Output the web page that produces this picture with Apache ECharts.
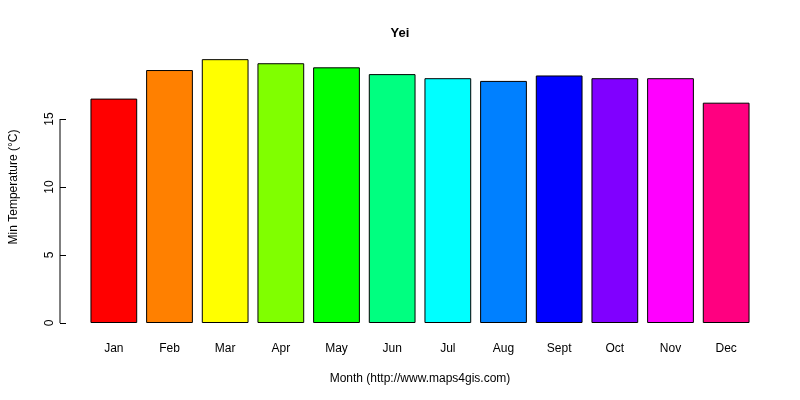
<!DOCTYPE html>
<html><head><meta charset="utf-8">
<script src="https://cdn.jsdelivr.net/npm/echarts@6/dist/echarts.min.js"></script>
<style>body{margin:0}#c{width:800px;height:400px}</style></head>
<body><div id="c"></div>
<script>
var months = ['Jan','Feb','Mar','Apr','May','Jun','Jul','Aug','Sept','Oct','Nov','Dec'];
var minTemp = [16.5,18.6,19.4,19.1,18.8,18.3,18.0,17.8,18.2,18.0,18.0,16.2];
var barColors = ['#FF0000','#FF8000','#FFFF00','#80FF00','#00FF00','#00FF80','#00FFFF','#0080FF','#0000FF','#8000FF','#FF00FF','#FF0080'];
var yTicks = [0,5,10,15];
var chart = echarts.init(document.getElementById('c'));
var font = 'Arial, Liberation Sans, sans-serif';
chart.setOption({
  animation:false,
  title:{text:'Yei',left:'center',top:22,textStyle:{fontSize:13,fontWeight:'bold',color:'#000',fontFamily:font}},
  grid:{left:80,right:46,top:51,bottom:77},
  xAxis:{type:'category',data:months,axisLine:{show:false},axisTick:{show:false},
    axisLabel:{margin:20,fontSize:12,color:'#000',fontFamily:font},
    name:'Month (http://www.maps4gis.com)',nameLocation:'middle',nameGap:50,
    nameTextStyle:{fontSize:12,color:'#000',fontFamily:font}},
  yAxis:{type:'value',min:0,max:20,interval:5,offset:20,splitLine:{show:false},
    axisLine:{show:false},
    axisTick:{show:true,length:6,lineStyle:{color:'#000'},customValues:yTicks},
    axisLabel:{rotate:90,fontSize:12,color:'#000',fontFamily:font,margin:10,customValues:yTicks},
    name:'Min Temperature (°C)',nameLocation:'middle',nameGap:46,
    nameTextStyle:{fontSize:12,color:'#000',fontFamily:font}},
  series:[{type:'bar',barCategoryGap:'16%',
    data:minTemp.map(function(v,i){return {value:v,itemStyle:{color:barColors[i]}};}),
    itemStyle:{borderColor:'#000',borderWidth:1}}]
});
var p0 = chart.convertToPixel({yAxisIndex:0},0);
var p15 = chart.convertToPixel({yAxisIndex:0},15);
chart.setOption({graphic:[{type:'line',shape:{x1:60,y1:p0,x2:60,y2:p15},style:{stroke:'#000',lineWidth:1}}]});
</script></body></html>
